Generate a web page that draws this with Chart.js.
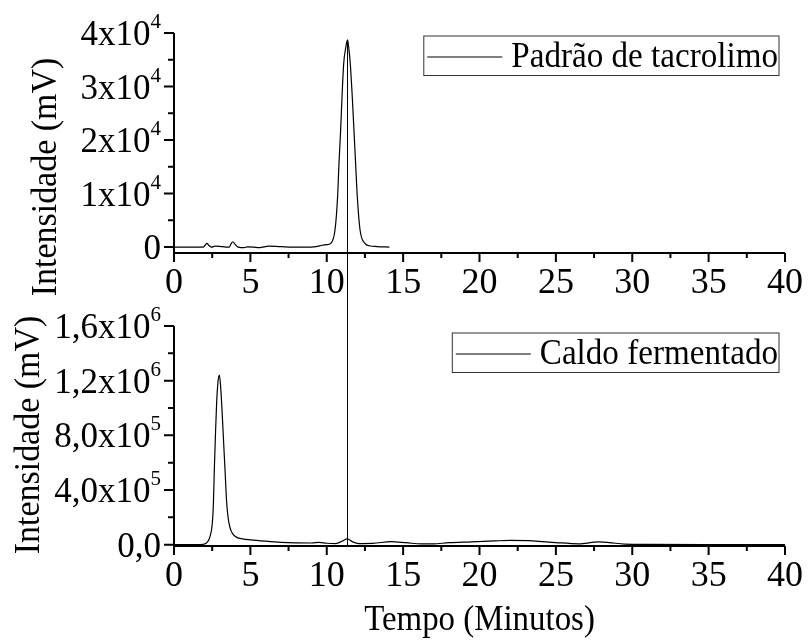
<!DOCTYPE html>
<html>
<head>
<meta charset="utf-8">
<script src="https://cdn.jsdelivr.net/npm/chart.js@4.4.1/dist/chart.umd.min.js"></script>
<style>
  html, body { margin: 0; padding: 0; background: #fff; overflow: hidden; }
  #wrap { position: relative; width: 809px; height: 640px; }
  #wrap canvas { position: absolute; left: 0; }
</style>
</head>
<body>
<div id="wrap">
  <canvas id="topChart" width="809" height="300" style="top:0;width:809px;height:300px"></canvas>
  <canvas id="bottomChart" width="809" height="340" style="top:300px;width:809px;height:340px"></canvas>
</div>
<script>
// Tacrolimus standard vs fermentation broth - HPLC chromatograms
const timeTop = [0, 1.0, 1.9, 2.05, 2.15, 2.3, 2.45, 2.7, 3.0, 3.4, 3.62, 3.75, 3.85, 4.0, 4.2, 4.6, 4.8, 5.2, 5.6, 6.2,
    6.7, 7.5, 8.5, 9.3, 9.7, 10.0, 10.26, 10.54, 10.71, 10.80, 10.91, 11.0, 11.11, 11.24, 11.36, 11.45, 11.54, 11.67, 11.78, 11.89,
    12.0, 12.18, 12.5, 12.8, 13.3, 14.1];
const signalTop = [0, 0, 0, 400, 700, 300, 0, 200, 150, 0, 0, 700, 1000, 500, 0, -100, 50, 0, -100, 200,
    150, 0, 0, 100, 350, 450, 700, 3200, 9400, 15600, 21900, 28100, 34300, 37200, 38700, 37000, 34300, 28100, 21900, 15600,
    9400, 3200, 700, 250, 100, 0];

const timeBottom = [0, 1.5, 1.92, 2.2, 2.36, 2.51, 2.58, 2.64, 2.71, 2.79, 2.88, 2.97, 3.05, 3.12, 3.23, 3.34, 3.45, 3.6, 4.0, 4.5,
    5.0, 6.0, 7.0, 8.0, 9.0, 9.5, 10.0, 10.6, 11.0, 11.35, 11.7, 12.1, 13.0, 14.2, 15.2, 16.2, 17.0, 18.0, 19.5, 21.0,
    22.0, 23.5, 25.0, 26.5, 27.8, 28.5, 29.5, 31.0, 35.0, 40.0];
const signalBottom = [0, 0, 2000, 20000, 61000, 158000, 305000, 548000, 791000, 1035000, 1190000, 1240000, 1160000, 1035000, 791000, 548000, 305000, 158000, 61000, 42000,
    35000, 25000, 17000, 13000, 12000, 16000, 10000, 8000, 25000, 42000, 20000, 8000, 9000, 22000, 14000, 5000, 6000, 14000, 20000, 27000,
    31000, 28000, 15000, 6000, 20000, 15000, 4000, 2000, 1000, 0];

const xTicks = [0, 5, 10, 15, 20, 25, 30, 35, 40];
const xTickLabels = ['0', '5', '10', '15', '20', '25', '30', '35', '40'];
const topYTicks = [0, 10000, 20000, 30000, 40000];
const topYLabels = ['0', '1x10^4', '2x10^4', '3x10^4', '4x10^4'];
const bottomYTicks = [0, 400000, 800000, 1200000, 1600000];
const bottomYLabels = ['0,0', '4,0x10^5', '8,0x10^5', '1,2x10^6', '1,6x10^6'];

// retention time of the standard's main peak, marked across both panels
const peakIndex = signalTop.indexOf(Math.max(...signalTop));
const markerTime = timeTop[peakIndex];
const markerPeak = signalTop[peakIndex];

const SERIF = "'Liberation Serif', 'Times New Roman', serif";

function drawText(ctx, text, x, y, size, align, sx) {
    ctx.save();
    ctx.font = size + 'px ' + SERIF;
    ctx.translate(x, y);
    ctx.scale(sx, 1);
    ctx.textAlign = align;
    ctx.textBaseline = 'alphabetic';
    ctx.fillText(text, 0, 0);
    ctx.restore();
}

function midpoints(ticks) {
    const out = [];
    for (let i = 0; i < ticks.length - 1; i++) out.push((ticks[i] + ticks[i + 1]) / 2);
    return out;
}

// axes, ticks, labels, legend box and marker line, Origin style
const framePlugin = {
    id: 'frame',
    afterDatasetsDraw(chart, args, opts) {
        const ctx = chart.ctx;
        const area = chart.chartArea;
        const xs = chart.scales.x;
        const ys = chart.scales.y;
        ctx.save();
        ctx.strokeStyle = '#000';
        ctx.fillStyle = '#000';
        ctx.lineCap = 'butt';

        // vertical marker at the standard's retention time
        const mx = xs.getPixelForValue(markerTime);
        ctx.lineWidth = 1;
        ctx.beginPath();
        if (opts.markerFromPeak) {
            ctx.moveTo(mx, ys.getPixelForValue(markerPeak));
            ctx.lineTo(mx, chart.height);
        } else {
            ctx.moveTo(mx, 0);
            ctx.lineTo(mx, area.bottom);
        }
        ctx.stroke();

        // axis lines
        ctx.lineWidth = 2;
        ctx.lineJoin = 'miter';
        ctx.beginPath();
        ctx.moveTo(area.left, area.top);
        ctx.lineTo(area.left, area.bottom);
        ctx.lineTo(area.right, area.bottom);
        ctx.stroke();

        // x ticks
        ctx.beginPath();
        xTicks.forEach(v => {
            const px = xs.getPixelForValue(v);
            ctx.moveTo(px, area.bottom);
            ctx.lineTo(px, area.bottom + 9);
        });
        midpoints(xTicks).forEach(v => {
            const px = xs.getPixelForValue(v);
            ctx.moveTo(px, area.bottom);
            ctx.lineTo(px, area.bottom + 5);
        });
        // y ticks
        opts.yTicks.forEach(v => {
            const py = ys.getPixelForValue(v);
            ctx.moveTo(area.left - 10, py);
            ctx.lineTo(area.left, py);
        });
        midpoints(opts.yTicks).forEach(v => {
            const py = ys.getPixelForValue(v);
            ctx.moveTo(area.left - 6, py);
            ctx.lineTo(area.left, py);
        });
        ctx.stroke();

        // x tick labels
        xTicks.forEach((v, i) => {
            drawText(ctx, xTickLabels[i], xs.getPixelForValue(v), area.bottom + 40, 36, 'center', 1);
        });

        // y tick labels, with superscript exponent after '^'
        const right = area.left - 13;
        opts.yTicks.forEach((v, i) => {
            const py = ys.getPixelForValue(v);
            const parts = opts.yLabels[i].split('^');
            let baseRight = right;
            if (parts.length > 1) {
                ctx.font = '21px ' + SERIF;
                const supW = ctx.measureText(parts[1]).width;
                drawText(ctx, parts[1], right - supW, py - 5, 21, 'left', 1);
                baseRight = right - supW;
            }
            drawText(ctx, parts[0], baseRight, py + 12, 35, 'right', 1);
        });

        // x axis title (bottom panel only)
        if (opts.xTitle) {
            drawText(ctx, opts.xTitle, (area.left + area.right) / 2, area.bottom + 84, 35, 'center', 0.94);
        }

        // rotated y axis title
        ctx.save();
        ctx.translate(opts.yTitleX, opts.yTitleY);
        ctx.rotate(-Math.PI / 2);
        drawText(ctx, 'Intensidade (mV)', 0, 0, 35, 'center', 0.97);
        ctx.restore();

        // legend box
        const label = chart.data.datasets[0].label;
        ctx.font = '36px ' + SERIF;
        const tw = ctx.measureText(label).width * 0.92;
        const boxR = area.right - 6;
        const boxT = area.top + opts.legendTop;
        const boxH = 39.5;
        const textL = boxR - 1 - tw;
        const lineR = textL - 9;
        const lineL = lineR - 75;
        const boxL = lineL - 3.5;
        ctx.lineWidth = 1;
        ctx.strokeStyle = '#333';
        ctx.strokeRect(boxL, boxT, boxR - boxL, boxH);
        ctx.strokeStyle = '#000';
        ctx.beginPath();
        ctx.moveTo(lineL, boxT + 21);
        ctx.lineTo(lineR, boxT + 21);
        ctx.stroke();
        drawText(ctx, label, textL, boxT + 31, 36, 'left', 0.92);

        ctx.restore();
    }
};

function makeChart(id, label, times, values, yMin, yMax, padding, frame) {
    return new Chart(document.getElementById(id), {
        type: 'line',
        data: {
            datasets: [{
                label: label,
                data: times.map((t, i) => ({ x: t, y: values[i] })),
                borderColor: '#000',
                borderWidth: 1.2,
                pointRadius: 0,
                fill: false,
                cubicInterpolationMode: 'monotone'
            }]
        },
        options: {
            responsive: false,
            animation: false,
            devicePixelRatio: 1,
            layout: { padding: padding },
            plugins: {
                legend: { display: false },
                tooltip: { enabled: false },
                title: { display: false },
                frame: frame
            },
            scales: {
                x: { type: 'linear', min: 0, max: 40, display: false },
                y: { type: 'linear', min: yMin, max: yMax, display: false }
            }
        },
        plugins: [framePlugin]
    });
}

makeChart('topChart', 'Padrão de tacrolimo', timeTop, signalTop, -1100, 40000,
    { left: 174, right: 24, top: 33, bottom: 47 },
    { yTicks: topYTicks, yLabels: topYLabels, yTitleX: 56, yTitleY: 177, legendTop: 3, markerFromPeak: true });

makeChart('bottomChart', 'Caldo fermentado', timeBottom, signalBottom, -10000, 1600000,
    { left: 174, right: 24, top: 26, bottom: 94 },
    { yTicks: bottomYTicks, yLabels: bottomYLabels, yTitleX: 39, yTitleY: 135, legendTop: 7, markerFromPeak: false,
      xTitle: 'Tempo (Minutos)' });
</script>
</body>
</html>
